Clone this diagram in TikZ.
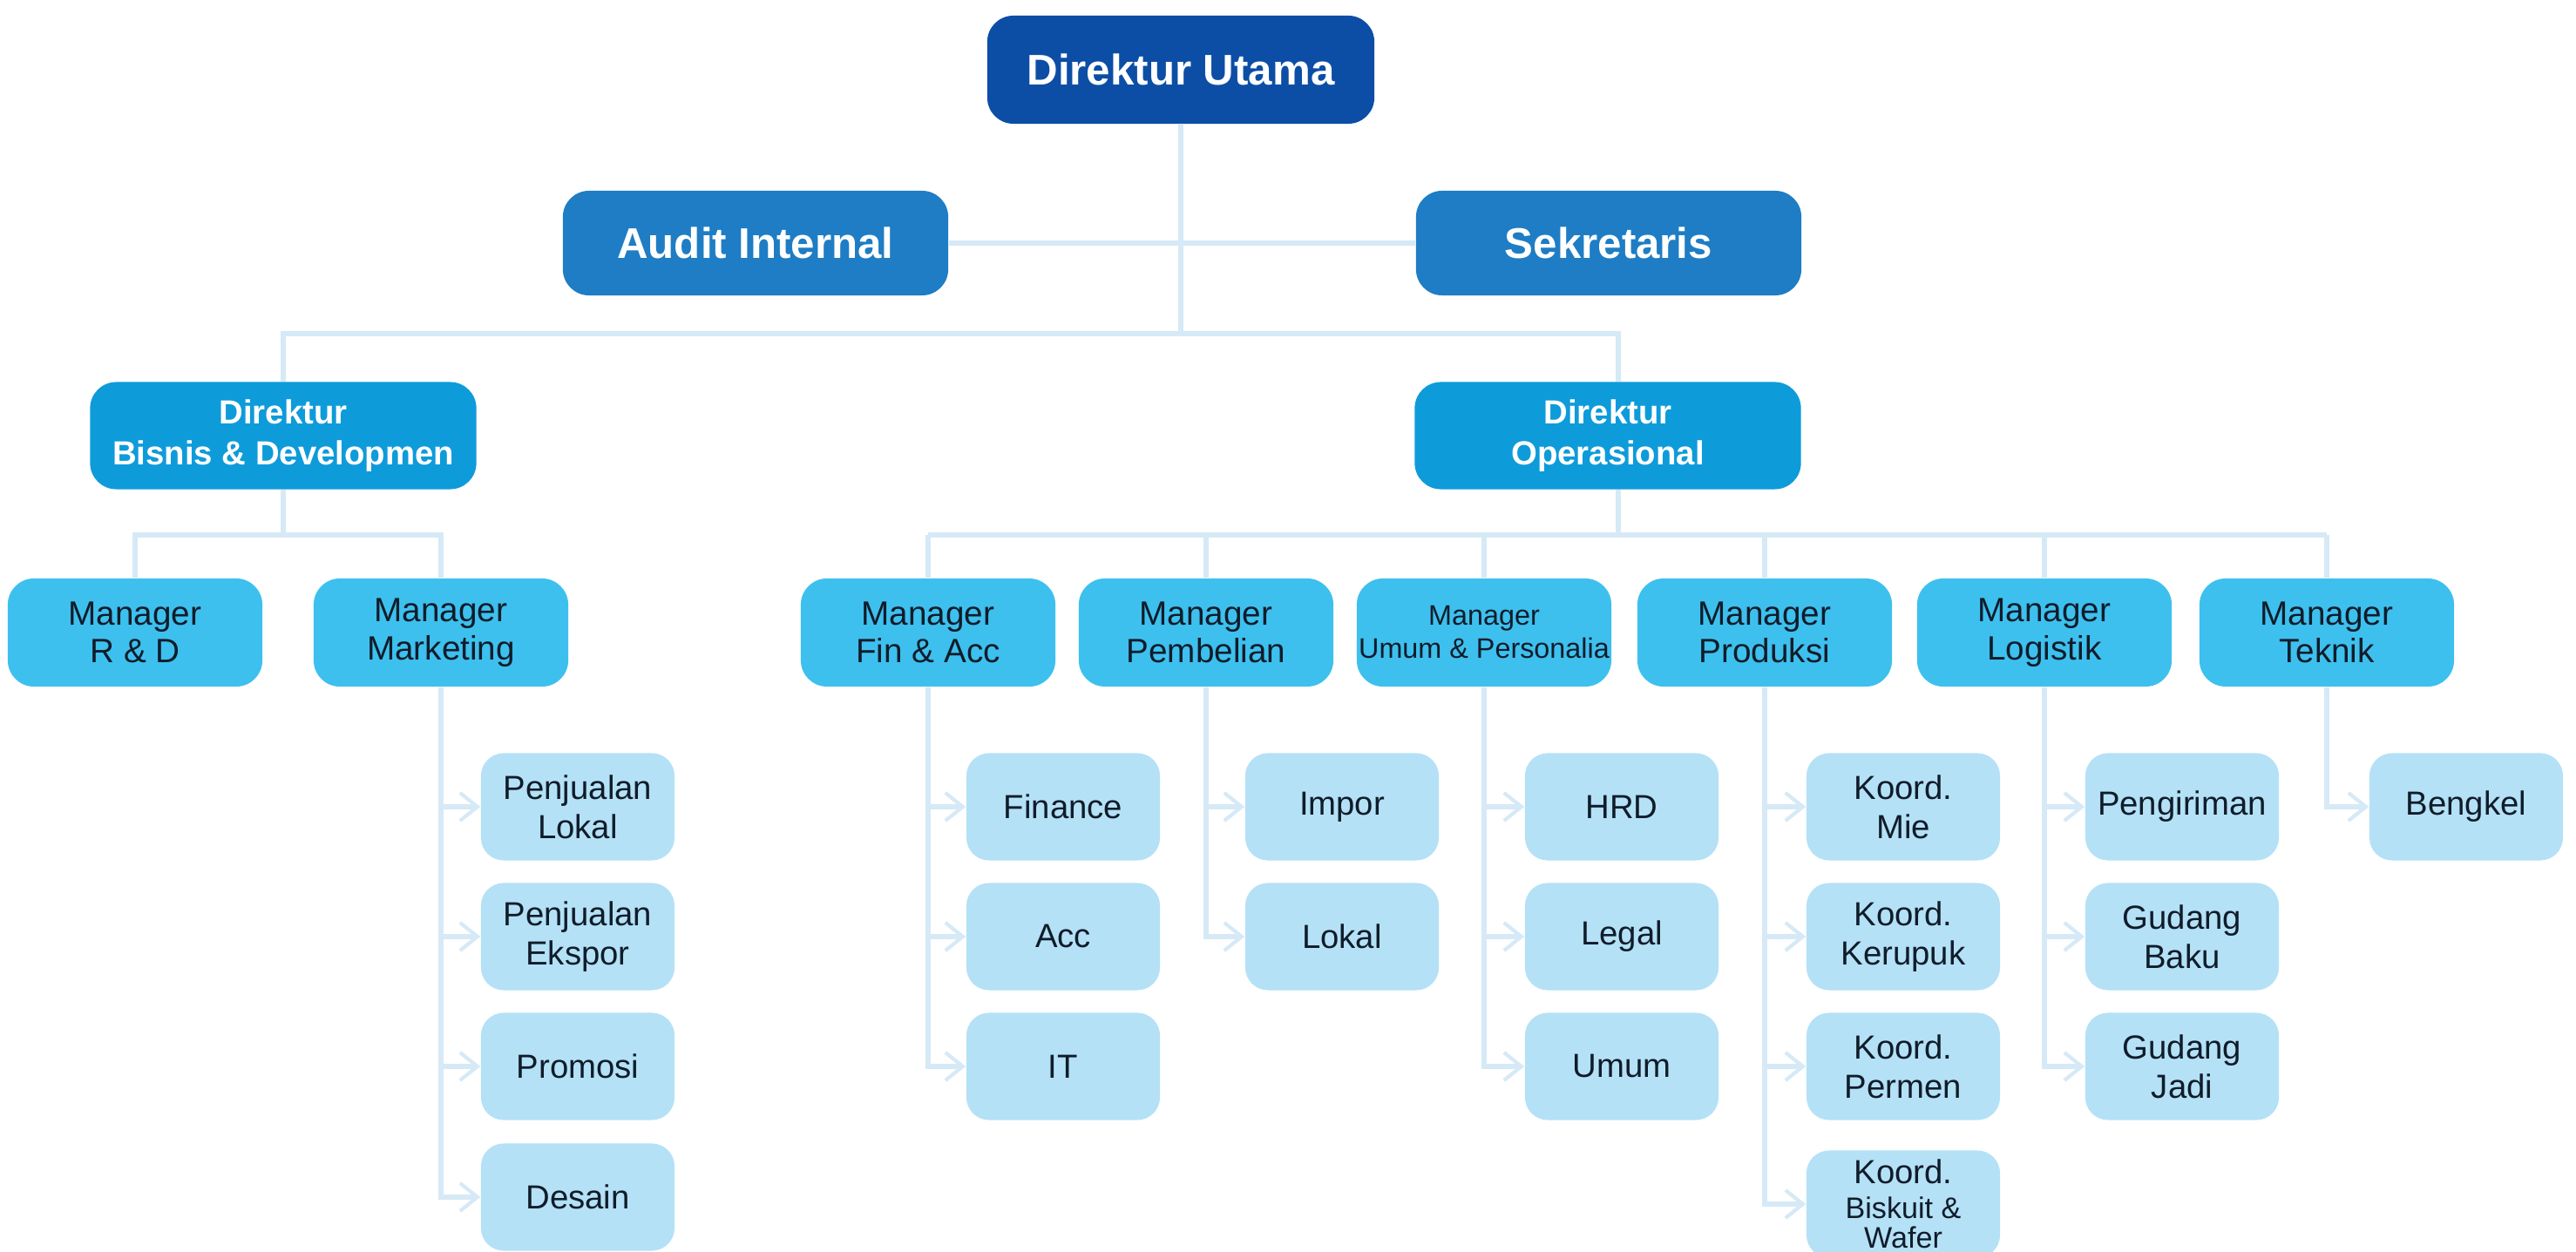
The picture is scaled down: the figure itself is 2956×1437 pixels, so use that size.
\documentclass[tikz,border=0pt]{standalone}
\usepackage{fontspec}
\setmainfont{Liberation Sans}
\usetikzlibrary{arrows.meta,backgrounds}
\definecolor{cA}{HTML}{0C4EA5}
\definecolor{cB}{HTML}{1E7DC4}
\definecolor{cC}{HTML}{0E9BDA}
\definecolor{cD}{HTML}{3DC0EE}
\definecolor{cE}{HTML}{B4E1F6}
\definecolor{cL}{HTML}{D6E9F6}
\definecolor{cT}{HTML}{101C2A}
\begin{document}
\begin{tikzpicture}[x=0.01cm,y=-0.01cm,
 box/.style={inner sep=0pt, align=center, rounded corners=0.3cm},
 topbox/.style={box, fill=cA, text=white, font=\fontsize{14}{16}\selectfont\bfseries, minimum width=4.44cm, minimum height=1.24cm},
 secbox/.style={box, fill=cB, text=white, font=\fontsize{14}{16}\selectfont\bfseries, minimum width=4.42cm, minimum height=1.20cm},
 dirbox/.style={box, fill=cC, text=white, font=\fontsize{10.9}{13.4}\selectfont\bfseries, minimum width=4.43cm, minimum height=1.23cm},
 mgrbox/.style={box, fill=cD, text=cT, font=\fontsize{11}{12.4}\selectfont, minimum width=2.92cm, minimum height=1.24cm},
 subbox/.style={box, fill=cE, text=cT, font=\fontsize{10.9}{12.8}\selectfont, minimum width=2.22cm, minimum height=1.23cm, rounded corners=0.26cm},
 conn/.style={draw=cL, line width=1.7pt},
 arr/.style={conn, -{Straight Barb[length=0.2cm,width=0.32cm,line width=1.2pt]}},
]
\useasboundingbox (0,0) rectangle (2956,1437);

% level 0-2
\node[topbox] (du) at (1355,80) {Direktur Utama};
\node[secbox] (aud) at (867,279) {Audit Internal};
\node[secbox] (sek) at (1846,279) {Sekretaris};
\node[dirbox] (dbd) at (325,500) {Direktur\\Bisnis \& Developmen};
\node[dirbox] (dop) at (1845,500) {Direktur\\Operasional};

% managers
\node[mgrbox] (rd)  at (155,726)  {Manager\\R \& D};
\node[mgrbox] (mkt) at (506,726)  {Manager\\Marketing};
\node[mgrbox] (fin) at (1065,726) {Manager\\Fin \& Acc};
\node[mgrbox] (pem) at (1384,726) {Manager\\Pembelian};
\node[mgrbox, font=\fontsize{9.2}{10.8}\selectfont] (umu) at (1703,726) {Manager\\Umum \& Personalia};
\node[mgrbox] (pro) at (2025,726) {Manager\\Produksi};
\node[mgrbox] (log) at (2346,726) {Manager\\Logistik};
\node[mgrbox] (tek) at (2670,726) {Manager\\Teknik};

% sub units
\node[subbox] (mk1) at (663,926)  {Penjualan\\Lokal};
\node[subbox] (mk2) at (663,1075) {Penjualan\\Ekspor};
\node[subbox] (mk3) at (663,1224) {Promosi};
\node[subbox] (mk4) at (663,1374) {Desain};

\node[subbox] (fi1) at (1220,926)  {Finance};
\node[subbox] (fi2) at (1220,1075) {Acc};
\node[subbox] (fi3) at (1220,1224) {IT};

\node[subbox] (pe1) at (1540,926)  {Impor};
\node[subbox] (pe2) at (1540,1075) {Lokal};

\node[subbox] (um1) at (1861,926)  {HRD};
\node[subbox] (um2) at (1861,1075) {Legal};
\node[subbox] (um3) at (1861,1224) {Umum};

\node[subbox] (pr1) at (2184,926)  {Koord.\\Mie};
\node[subbox] (pr2) at (2184,1075) {Koord.\\Kerupuk};
\node[subbox] (pr3) at (2184,1224) {Koord.\\Permen};
\node[subbox] (pr4) at (2184,1382) {Koord.\\[-1.5pt]{\fontsize{9.7}{10.8}\selectfont Biskuit \&}\\[-3pt]{\fontsize{9.7}{10.8}\selectfont Wafer}};

\node[subbox] (lo1) at (2504,926)  {Pengiriman};
\node[subbox] (lo2) at (2504,1075) {Gudang\\Baku};
\node[subbox] (lo3) at (2504,1224) {Gudang\\Jadi};

\node[subbox] (te1) at (2830,926)  {Bengkel};

\begin{scope}[on background layer]
\coordinate (yA) at (0,383);
\coordinate (yB) at (0,614);
\coordinate (xR) at (1857,0);
\draw[conn] (du.south) -- (du.south |- yA);
\draw[conn] (aud.east) -- (sek.west);
\draw[conn] (dbd.north) -- (dbd.north |- yA) -- (xR |- yA) -- (xR |- dop.north);
\draw[conn] (dbd.south) -- (dbd.south |- yB);
\draw[conn] (rd.north) -- (rd.north |- yB) -- (mkt.north |- yB) -- (mkt.north);
\draw[conn] (xR |- dop.south) -- (xR |- yB);
\draw[conn] (fin.north |- yB) -- (tek.north |- yB);
\foreach \m in {fin,pem,umu,pro,log,tek} \draw[conn] (\m.north) -- (\m.north |- yB);

% children connectors
\draw[arr] (mkt.south) |- (mk4.west);
\foreach \k in {mk1,mk2,mk3} \draw[arr] (mkt.south |- \k.west) -- (\k.west);
\draw[arr] (fin.south) |- (fi3.west);
\foreach \k in {fi1,fi2} \draw[arr] (fin.south |- \k.west) -- (\k.west);
\draw[arr] (pem.south) |- (pe2.west);
\draw[arr] (pem.south |- pe1.west) -- (pe1.west);
\draw[arr] (umu.south) |- (um3.west);
\foreach \k in {um1,um2} \draw[arr] (umu.south |- \k.west) -- (\k.west);
\draw[arr] (pro.south) |- (pr4.west);
\foreach \k in {pr1,pr2,pr3} \draw[arr] (pro.south |- \k.west) -- (\k.west);
\draw[arr] (log.south) |- (lo3.west);
\foreach \k in {lo1,lo2} \draw[arr] (log.south |- \k.west) -- (\k.west);
\draw[arr] (tek.south) |- (te1.west);
\end{scope}
\end{tikzpicture}
\end{document}
